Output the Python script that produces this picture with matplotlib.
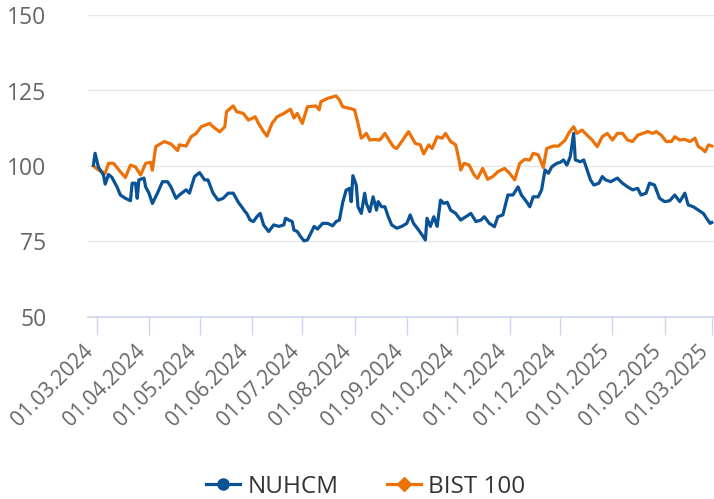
import numpy as np
import pandas as pd
import matplotlib
matplotlib.use("Agg")
import matplotlib.pyplot as plt
import matplotlib.transforms as mtransforms

plt.rcParams['font.family'] = ['Open Sans', 'DejaVu Sans']

# data, days counted from 01.03.2024
start = pd.Timestamp("2024-03-01")

nuhcm_days = [-2, -1, 1, 4, 5, 7, 9, 12, 14, 17, 20, 21, 23, 24, 25, 28, 29, 31, 33, 36,
              39, 42, 44, 47, 49, 53, 55, 58, 61, 64, 66, 69, 72, 75, 78, 81, 84, 86, 88, 89,
              91, 93, 95, 97, 99, 102, 105, 108, 111, 112, 114, 116, 117, 119, 121, 123, 125, 127, 129, 131,
              134, 137, 140, 142, 144, 146, 148, 150, 151, 152, 154, 155, 157, 159, 160, 162, 164, 166, 167, 169,
              171, 173, 175, 178, 181, 184, 186, 188, 191, 193, 195, 196, 198, 200, 202, 204, 206, 208, 210, 213,
              216, 219, 222, 225, 228, 230, 233, 236, 238, 241, 244, 247, 250, 252, 255, 257, 259, 262, 264, 266,
              268, 270, 273, 275, 277, 279, 281, 283, 284, 287, 289, 291, 293, 295, 298, 300, 302, 305, 309, 312,
              315, 318, 321, 323, 326, 328, 331, 334, 337, 340, 343, 346, 349, 351, 354, 357, 360, 362, 364, 365]
nuhcm = [100.3, 104.2, 99.6, 97.0, 94.0, 97.2, 96.2, 93.1, 90.4, 89.3, 88.5, 94.3, 94.3, 89.3, 95.4, 96.0, 93.1, 91.0, 87.6, 91.0,
         94.8, 94.8, 93.1, 89.3, 90.4, 92.1, 91.0, 96.5, 97.8, 95.4, 95.4, 91.0, 88.7, 89.3, 91.0, 91.0, 88.0, 86.5, 84.9, 84.3,
         82.1, 81.6, 83.2, 84.3, 80.5, 78.3, 80.5, 80.0, 80.5, 82.7, 82.1, 81.6, 78.8, 78.3, 76.6, 75.2, 75.5, 77.7, 80.0, 79.1,
         81.0, 81.0, 80.2, 81.6, 82.1, 88.0, 92.0, 92.6, 88.2, 96.8, 93.7, 86.5, 84.3, 91.0, 87.6, 84.9, 89.8, 85.4, 88.2, 86.5,
         86.5, 83.2, 80.5, 79.4, 80.0, 81.0, 83.8, 81.0, 78.8, 77.2, 75.5, 82.7, 80.0, 83.2, 80.0, 88.7, 87.6, 88.0, 85.4, 84.3,
         82.1, 83.2, 84.3, 81.6, 82.1, 83.2, 81.0, 79.9, 83.2, 83.8, 90.4, 90.4, 93.1, 90.4, 88.2, 86.5, 89.8, 89.8, 92.1, 98.7,
         97.6, 99.7, 100.9, 101.2, 102.0, 100.3, 103.1, 110.8, 102.0, 101.4, 102.0, 98.7, 95.4, 93.7, 94.3, 96.5, 95.4, 94.8, 96.0, 94.3,
         93.1, 92.1, 92.6, 90.4, 91.0, 94.3, 93.7, 89.3, 88.2, 88.5, 90.4, 88.2, 91.0, 87.1, 86.5, 85.4, 84.3, 82.6, 81.0, 81.3]

bist_days = [-2, 1, 5, 7, 10, 14, 17, 20, 23, 26, 29, 32, 33, 35, 40, 44, 48, 49, 53, 56,
             59, 62, 67, 69, 73, 76, 77, 81, 83, 87, 90, 94, 96, 99, 101, 104, 107, 111, 115, 117,
             119, 122, 125, 130, 132, 133, 137, 142, 144, 146, 150, 153, 155, 157, 160, 162, 165, 168, 171, 174,
             176, 178, 181, 185, 189, 192, 194, 197, 199, 202, 205, 207, 210, 213, 215, 216, 218, 221, 224, 226,
             229, 232, 235, 238, 242, 245, 248, 251, 254, 257, 259, 262, 265, 267, 271, 274, 278, 280, 283, 285,
             288, 291, 294, 297, 300, 303, 306, 309, 312, 315, 318, 321, 324, 327, 330, 332, 335, 338, 341, 343,
             346, 349, 352, 355, 357, 359, 361, 363, 365]
bist = [100.0, 98.7, 97.6, 100.9, 100.9, 98.1, 96.2, 100.3, 99.7, 97.0, 100.9, 101.2, 98.6, 106.4, 108.1, 107.3, 105.1, 107.0, 106.6, 109.7,
        110.8, 113.0, 114.1, 113.0, 111.3, 113.0, 118.0, 119.9, 118.0, 117.4, 115.2, 116.3, 114.1, 111.4, 109.9, 114.1, 116.3, 117.4, 118.8, 115.9,
        117.4, 114.1, 119.6, 119.9, 118.6, 121.3, 122.4, 123.2, 121.9, 119.6, 119.1, 118.6, 114.1, 109.2, 110.8, 108.6, 108.8, 108.6, 110.8, 108.1,
        106.4, 105.8, 108.1, 111.4, 107.5, 107.0, 104.0, 107.0, 105.8, 109.7, 109.2, 110.8, 108.1, 107.0, 102.0, 98.7, 100.9, 100.3, 97.0, 95.9,
        99.2, 95.6, 96.5, 98.1, 99.2, 97.6, 95.4, 100.9, 102.2, 102.0, 104.2, 103.7, 99.5, 105.8, 106.6, 106.6, 108.6, 110.8, 113.0, 110.8,
        111.9, 110.2, 108.6, 106.4, 109.7, 110.8, 108.6, 110.8, 110.8, 108.6, 108.1, 110.2, 110.8, 111.4, 110.8, 111.4, 110.2, 108.1, 108.1, 109.7,
        108.6, 108.8, 108.1, 109.2, 106.4, 105.8, 104.7, 107.0, 106.6]

tick_labels = ["01.03.2024", "01.04.2024", "01.05.2024", "01.06.2024", "01.07.2024", "01.08.2024",
               "01.09.2024", "01.10.2024", "01.11.2024", "01.12.2024", "01.01.2025", "01.02.2025", "01.03.2025"]

blue = "#0a5296"
orange = "#ec7108"

nuhcm_dates = start + pd.to_timedelta(nuhcm_days, unit="D")
bist_dates = start + pd.to_timedelta(bist_days, unit="D")
tick_dates = pd.to_datetime(tick_labels, format="%d.%m.%Y")

fig = plt.figure(figsize=(7.14, 4.99), dpi=100)
ax = fig.add_axes([88 / 714, 182 / 499, 626 / 714, 302 / 499])

ax.plot(bist_dates, bist, color=orange, lw=2.3, solid_joinstyle="round")
ax.plot(nuhcm_dates, nuhcm, color=blue, lw=2.3, solid_joinstyle="round")

ax.set_ylim(50, 150)
ax.set_yticks([50, 75, 100, 125, 150])
ax.set_xlim(start - pd.Timedelta(days=5.2), start + pd.Timedelta(days=366.3))
ax.set_xticks(tick_dates)
ax.set_xticklabels(tick_labels, rotation=45, ha="right", va="baseline", rotation_mode="anchor")

ax.grid(axis="y", color="#e6e6e6", lw=1)
ax.set_axisbelow(True)
for s in ["top", "right", "left"]:
    ax.spines[s].set_visible(False)
ax.spines["bottom"].set_color("#ccd6eb")
ax.spines["bottom"].set_linewidth(1.2)
ax.tick_params(axis="x", length=13, color="#ccd6eb", width=1, labelsize=15, labelcolor="#666666", pad=12)
ax.tick_params(axis="y", length=0, labelsize=16.5, labelcolor="#666666", pad=30)

shift = mtransforms.ScaledTranslation(-2 / 72, 0, fig.dpi_scale_trans)
for lbl in ax.get_xticklabels():
    lbl.set_transform(lbl.get_transform() + shift)

h_n = plt.Line2D([], [], color=blue, lw=2.3, marker="o", markersize=8)
h_b = plt.Line2D([], [], color=orange, lw=2.3, marker="D", markersize=7)
fig.legend([h_n, h_b], ["NUHCM", "BIST 100"], loc="center", bbox_to_anchor=(0.512, 0.025),
           ncol=2, frameon=False, fontsize=17.5, labelcolor="#333333", handlelength=1.4,
           columnspacing=2.0, handletextpad=0.3)

fig.savefig("out.png", dpi=100)
